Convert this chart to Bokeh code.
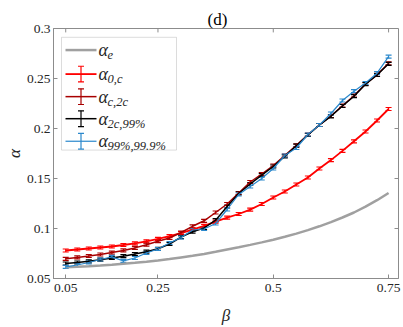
from bokeh.plotting import figure
from bokeh.models import (ColumnDataSource, Whisker, TeeHead, FixedTicker,
                          Range1d, Label, BoxAnnotation)
from bokeh.embed import file_html
from bokeh.resources import INLINE

# ---------------- data ----------------
beta = [0.05, 0.075, 0.1, 0.125, 0.15, 0.175, 0.2, 0.225, 0.25, 0.275, 0.3, 0.325, 0.35,
        0.375, 0.4, 0.425, 0.45, 0.475, 0.5, 0.525, 0.55, 0.575, 0.6, 0.625, 0.65, 0.675,
        0.7, 0.725, 0.75]
alpha_e = [0.0612, 0.0617, 0.0623, 0.063, 0.0638, 0.0647, 0.0657, 0.0668, 0.068, 0.0694,
           0.0711, 0.0728, 0.0746, 0.0767, 0.079, 0.0812, 0.0836, 0.0861, 0.0888, 0.0917,
           0.0949, 0.0984, 0.1022, 0.1064, 0.111, 0.116, 0.1218, 0.1283, 0.1355]
alpha_0c = [0.078, 0.079, 0.080, 0.081, 0.082, 0.0835, 0.0851, 0.0872, 0.0896, 0.0923,
            0.0954, 0.0989, 0.1027, 0.1069, 0.1108, 0.1145, 0.1189, 0.1245, 0.131, 0.137,
            0.144, 0.151, 0.160, 0.1684, 0.1776, 0.1872, 0.197, 0.208, 0.2195]
alpha_c2c = [0.0697, 0.0711, 0.0725, 0.074, 0.0759, 0.0781, 0.0806, 0.0838, 0.0873, 0.0905,
             0.096, 0.1022, 0.1077, 0.116, 0.1245, 0.1355, 0.1465, 0.1545, 0.163, 0.173,
             0.1832, 0.1938, 0.2035, 0.2125, 0.2228, 0.2328, 0.2445, 0.2537, 0.2652]
alpha_2c99 = [0.065, 0.066, 0.0672, 0.0688, 0.0705, 0.0723, 0.0745, 0.0768, 0.0797, 0.0845,
              0.0914, 0.0968, 0.1005, 0.1083, 0.122, 0.135, 0.1445, 0.1533, 0.162, 0.1722,
              0.1828, 0.1935, 0.2035, 0.2122, 0.2225, 0.2323, 0.2443, 0.2535, 0.2647]
alpha_99_999 = [0.0617, 0.0635, 0.066, 0.069, 0.0716, 0.0676, 0.0705, 0.0755, 0.0795, 0.0855,
                0.091, 0.0985, 0.0995, 0.105, 0.119, 0.134, 0.142, 0.150, 0.160, 0.173,
                0.1805, 0.194, 0.2035, 0.215, 0.228, 0.2373, 0.2455, 0.2553, 0.2718]
err_half = [0.0015, 0.0015, 0.0015, 0.0015]   # error-bar half heights for the 4 error series

x_ticks = [0.05, 0.25, 0.5, 0.75]
x_tick_labels = ["0.05", "0.25", "0.5", "0.75"]
y_ticks = [0.05, 0.1, 0.15, 0.2, 0.25, 0.3]
y_tick_labels = ["0.05", "0.1", "0.15", "0.2", "0.25", "0.3"]

# ---------------- figure ----------------
X0, X1 = 0.0235, 0.7715
Y0, Y1 = 0.05, 0.3
SERIF = "serif"
TXT = "#262626"
AX = "#8c8c8c"

W, H = 403, 327
BL, BR, BT, BB = 53, 5, 28, 44
p = figure(width=W, height=H, output_backend="svg", toolbar_location=None,
           x_range=Range1d(X0, X1), y_range=Range1d(Y0, Y1),
           min_border_left=BL, min_border_right=BR, min_border_top=BT, min_border_bottom=BB)
p.grid.visible = False
p.outline_line_color = AX
p.outline_line_width = 1

p.title.text = "(d)"
p.title.align = "left"
p.title.text_font = SERIF
p.title.text_font_style = "normal"
p.title.text_font_size = "17px"
p.title.text_color = "#000000"
p.title.standoff = 0
p.title.offset = 154

def style_axis(ax, ticks, labels):
    ax.ticker = FixedTicker(ticks=ticks)
    ax.major_label_overrides = {t: l for t, l in zip(ticks, labels)}
    ax.minor_tick_line_color = None
    ax.major_tick_in = 4
    ax.major_tick_out = 0
    ax.major_tick_line_color = AX
    ax.axis_line_color = AX
    ax.major_label_text_font = SERIF
    ax.major_label_text_font_size = "13.5px"
    ax.major_label_text_color = TXT
    ax.axis_label_text_font = SERIF
    ax.axis_label_text_font_style = "italic"
    ax.axis_label_text_font_size = "17px"
    ax.axis_label_text_color = TXT

style_axis(p.xaxis[0], x_ticks, x_tick_labels)
style_axis(p.yaxis[0], y_ticks, y_tick_labels)
p.xaxis[0].major_label_standoff = 5
p.yaxis[0].major_label_standoff = 3
p.xaxis[0].axis_label = "β"
p.yaxis[0].axis_label = "α"
p.xaxis[0].axis_label_standoff = 11
p.yaxis[0].axis_label_standoff = 0

# page-pixel -> data helpers (figure sits at the page's top-left corner)
FL, FR, FT, FB = BL, W - BR, BT, H - BB
def dx(px):
    return X0 + (px - FL) / (FR - FL) * (X1 - X0)
def dy(py):
    return Y1 - (py - FT) / (FB - FT) * (Y1 - Y0)
TX = (X1 - X0) / (FR - FL)   # data per px in x
TY = (Y1 - Y0) / (FB - FT)   # data per px in y

# top / right tick marks of the box
p.segment(x0=x_ticks, y0=[Y1] * len(x_ticks), x1=x_ticks, y1=[Y1 - 4 * TY] * len(x_ticks),
          line_color=AX, line_width=1)
p.segment(x0=[X1] * len(y_ticks), y0=y_ticks, x1=[X1 - 4 * TX] * len(y_ticks), y1=y_ticks,
          line_color=AX, line_width=1)

# ---------------- series ----------------
GRAY = "#a0a0a0"
RED = "#ff0000"
DRED = "#a80000"
BLACK = "#000000"
BLUE = "#2a88cc"

p.line(beta, alpha_e, line_color=GRAY, line_width=2.5)

err_series = [(alpha_0c, RED, 1.8), (alpha_c2c, DRED, 1.5), (alpha_2c99, BLACK, 1.5),
              (alpha_99_999, BLUE, 1.2)]
for (ys, col, lw), eh in zip(err_series, err_half):
    src = ColumnDataSource(dict(x=beta, y=ys,
                                lo=[v - eh for v in ys], hi=[v + eh for v in ys]))
    p.line("x", "y", source=src, line_color=col, line_width=lw)
    w = Whisker(source=src, base="x", lower="lo", upper="hi", line_color=col, line_width=1.2,
                lower_head=TeeHead(size=6, line_color=col, line_width=1.2),
                upper_head=TeeHead(size=6, line_color=col, line_width=1.2))
    p.add_layout(w)

# ---------------- legend (drawn by hand) ----------------
p.add_layout(BoxAnnotation(left=dx(61), right=dx(176), top=dy(37), bottom=dy(152),
                           fill_color="white", fill_alpha=1.0, line_color=AX, line_width=1))

leg_rows = [("e", GRAY, 2.5, False, 50),
            ("0,c", RED, 1.8, True, 74.5),
            ("c,2c", DRED, 1.5, True, 97.5),
            ("2c,99%", BLACK, 1.5, True, 120),
            ("99%,99.9%", BLUE, 1.2, True, 143)]
for sub, col, lw, has_err, yc in leg_rows:
    p.segment(x0=[dx(65)], y0=[dy(yc)], x1=[dx(96)], y1=[dy(yc)],
              line_color=col, line_width=lw, level="overlay")
    if has_err:
        lsrc = ColumnDataSource(dict(x=[dx(80.5)], lo=[dy(yc + 8)], hi=[dy(yc - 8)]))
        p.add_layout(Whisker(source=lsrc, base="x", lower="lo", upper="hi",
                             line_color=col, line_width=1.2, level="overlay",
                             lower_head=TeeHead(size=6, line_color=col, line_width=1.2),
                             upper_head=TeeHead(size=6, line_color=col, line_width=1.2)))
    p.add_layout(Label(x=dx(98), y=dy(yc), text="α", text_font=SERIF,
                       text_font_style="italic", text_font_size="18px", text_color=TXT,
                       text_baseline="middle", level="overlay"))
    p.add_layout(Label(x=dx(107), y=dy(yc + 5), text=sub, text_font=SERIF,
                       text_font_style="italic", text_font_size="12.5px", text_color=TXT,
                       text_baseline="middle", level="overlay"))

open("out.html", "w").write(file_html(p, INLINE))
